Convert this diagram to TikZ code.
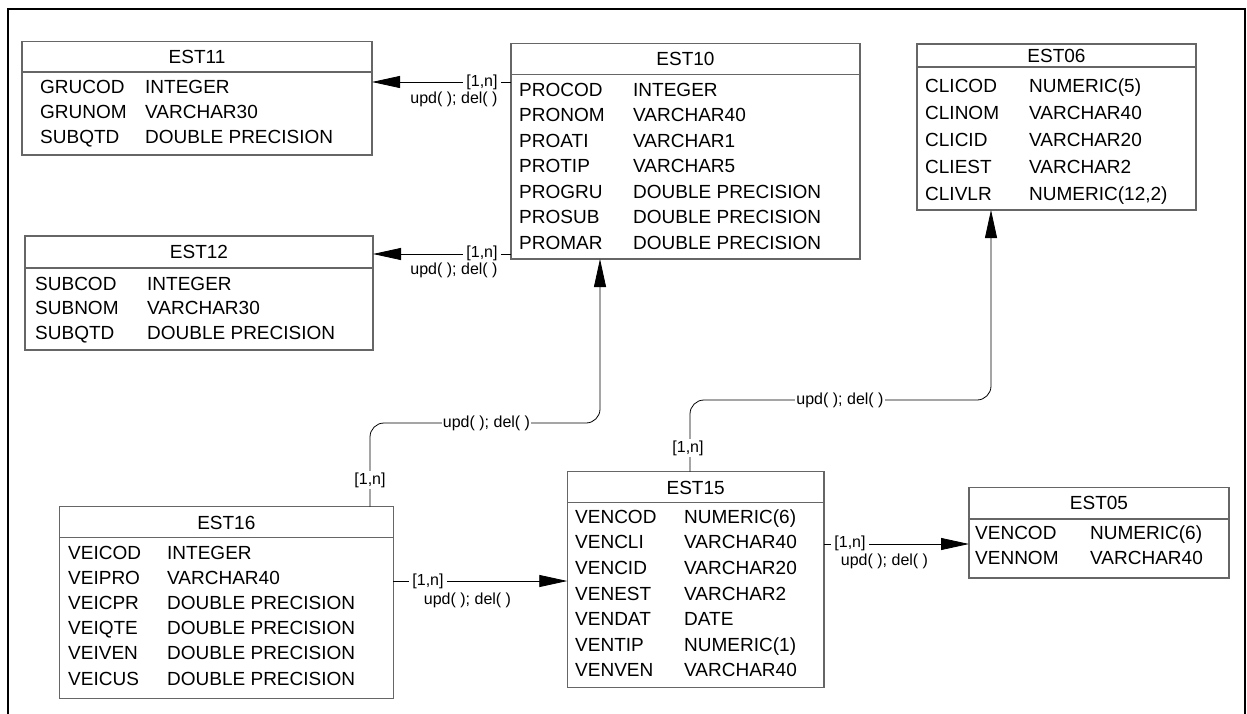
\documentclass[tikz,border=0pt]{standalone}
\usepackage{fontspec}
\setmainfont{Liberation Sans}
\usetikzlibrary{arrows.meta}
\newcommand\tfont{\fontsize{19}{22}\selectfont}
\newcommand\lfont{\fontsize{16}{18}\selectfont}
\newcount\nc
\tikzset{
  boxline/.style={draw=black!60, line width=1.1pt},
  tbl/.style={boxline, rectangle, inner sep=0pt, outer sep=0pt},
  ttl/.style={font=\tfont, anchor=base, inner sep=0pt},
  fld/.style={font=\tfont, anchor=base west, inner sep=0pt},
  lbl/.style={font=\lfont, fill=white, inner xsep=3.5pt, inner ysep=0pt},
  lblb/.style={font=\lfont, inner sep=0pt},
  rel/.style={draw=black, line width=0.8pt},
  tip/.style={-{Triangle[length=28pt,width=12pt]}},
  frame/.style={draw=black, line width=2.4pt},
}
% name, x1, y1, x2, ysep, y2, title
\newcommand\ertable[7]{%
  \node[tbl, minimum width={(#4-#2)*1pt}, minimum height={(#6-#3)*1pt}] (#1) at ({(#2+#4)/2},{(#3+#6)/2}) {};
  \draw[boxline] (#1.west |- 0,#5) -- (#1.east |- 0,#5);
  \node[ttl] (#1-t) at ({(#2+#4)/2},{(#3+#5)/2+6.8}) {#7};
}
% xname, xtype, y, name, type
\newcommand\erow[5]{%
  \global\advance\nc by 1
  \node[fld] (fa\the\nc) at (#1,{#3+6.8}) {#4};
  \node[fld] (fb\the\nc) at (#2,{#3+6.8}) {#5};
}
\begin{document}
\begin{tikzpicture}[x=1pt,y=-1pt]
\useasboundingbox (0,0) rectangle (1247,714);
\fill[white] (0,0) rectangle (1247,714);
\coordinate (fbl) at (8,714);
\coordinate (ftl) at (8,9);
\coordinate (ftr) at (1245,9);
\coordinate (fbr) at (1245,714);
\draw[frame] (fbl) -- (ftl) -- (ftr) -- (fbr);

% EST11
\ertable{EST11}{22}{41.5}{372}{72}{155}{EST11}
\erow{40}{145}{87}{GRUCOD}{INTEGER}
\erow{40}{145}{112}{GRUNOM}{VARCHAR30}
\erow{40}{145}{137}{SUBQTD}{DOUBLE PRECISION}

% EST12
\ertable{EST12}{25}{236}{373}{268}{350}{EST12}
\erow{35}{147}{283.5}{SUBCOD}{INTEGER}
\erow{35}{147}{308}{SUBNOM}{VARCHAR30}
\erow{35}{147}{332.5}{SUBQTD}{DOUBLE PRECISION}

% EST10
\ertable{EST10}{511}{43.3}{860}{74.3}{259}{EST10}
\erow{519}{633}{89.5}{PROCOD}{INTEGER}
\erow{519}{633}{115}{PRONOM}{VARCHAR40}
\erow{519}{633}{140.5}{PROATI}{VARCHAR1}
\erow{519}{633}{166}{PROTIP}{VARCHAR5}
\erow{519}{633}{191.5}{PROGRU}{DOUBLE PRECISION}
\erow{519}{633}{217}{PROSUB}{DOUBLE PRECISION}
\erow{519}{633}{242.5}{PROMAR}{DOUBLE PRECISION}

% EST06
\ertable{EST06}{917}{44}{1196}{67}{210}{EST06}
\erow{925}{1029}{86}{CLICOD}{NUMERIC(5)}
\erow{925}{1029}{113}{CLINOM}{VARCHAR40}
\erow{925}{1029}{140}{CLICID}{VARCHAR20}
\erow{925}{1029}{167}{CLIEST}{VARCHAR2}
\erow{925}{1029}{194}{CLIVLR}{NUMERIC(12,2)}

% EST16
\ertable{EST16}{59.3}{506.7}{393.3}{537.7}{698.3}{EST16}
\erow{68}{167}{552.3}{VEICOD}{INTEGER}
\erow{68}{167}{577.5}{VEIPRO}{VARCHAR40}
\erow{68}{167}{602.7}{VEICPR}{DOUBLE PRECISION}
\erow{68}{167}{627.9}{VEIQTE}{DOUBLE PRECISION}
\erow{68}{167}{653.1}{VEIVEN}{DOUBLE PRECISION}
\erow{68}{167}{678.3}{VEICUS}{DOUBLE PRECISION}

% EST15
\ertable{EST15}{567.3}{471.7}{824}{502.7}{687.7}{EST15}
\erow{575}{684}{516.5}{VENCOD}{NUMERIC(6)}
\erow{575}{684}{542.1}{VENCLI}{VARCHAR40}
\erow{575}{684}{567.7}{VENCID}{VARCHAR20}
\erow{575}{684}{593.3}{VENEST}{VARCHAR2}
\erow{575}{684}{618.9}{VENDAT}{DATE}
\erow{575}{684}{644.5}{VENTIP}{NUMERIC(1)}
\erow{575}{684}{670.1}{VENVEN}{VARCHAR40}

% EST05
\ertable{EST05}{969}{487.3}{1229}{519}{578}{EST05}
\erow{975}{1090}{532.3}{VENCOD}{NUMERIC(6)}
\erow{975}{1090}{557.3}{VENNOM}{VARCHAR40}

% connectors
\draw[rel,tip] (EST10.west |- 0,82) -- (EST11.east |- 0,82);
\node[lbl] (l1a) at (482,82) {[1,n]};
\node[lblb] (l1b) at (454,99) {upd( ); del( )};

\draw[rel,tip] (EST10.west |- 0,254) -- (EST12.east |- 0,254);
\node[lbl] (l2a) at (482,253.5) {[1,n]};
\node[lblb] (l2b) at (454,270) {upd( ); del( )};

\draw[rel,tip,rounded corners=14pt] (EST16.north -| 370,0) -- (370,423) -- (600,423) -- (EST10.south -| 600,0);
\node[lbl, inner xsep=1pt] (l3b) at (486.5,423) {upd( ); del( )};
\node[lbl, inner xsep=1pt, inner ysep=2pt] (l3a) at (370,480) {[1,n]};

\draw[rel,tip,rounded corners=14pt] (EST15.north -| 690,0) -- (690,400) -- (991,400) -- (EST06.south -| 991,0);
\node[lbl, inner xsep=1pt] (l4b) at (840,400) {upd( ); del( )};
\node[lbl, inner xsep=1pt, inner ysep=2pt] (l4a) at (688,448) {[1,n]};

\draw[rel,tip] (EST16.east |- 0,581) -- (EST15.west |- 0,581);
\node[lbl] (l5a) at (428,581) {[1,n]};
\node[lblb] (l5b) at (467.5,600) {upd( ); del( )};

\draw[rel,tip] (EST15.east |- 0,544) -- (EST05.west |- 0,544);
\node[lbl] (l6a) at (850,543.5) {[1,n]};
\node[lblb] (l6b) at (884.5,561) {upd( ); del( )};
\end{tikzpicture}
\end{document}
